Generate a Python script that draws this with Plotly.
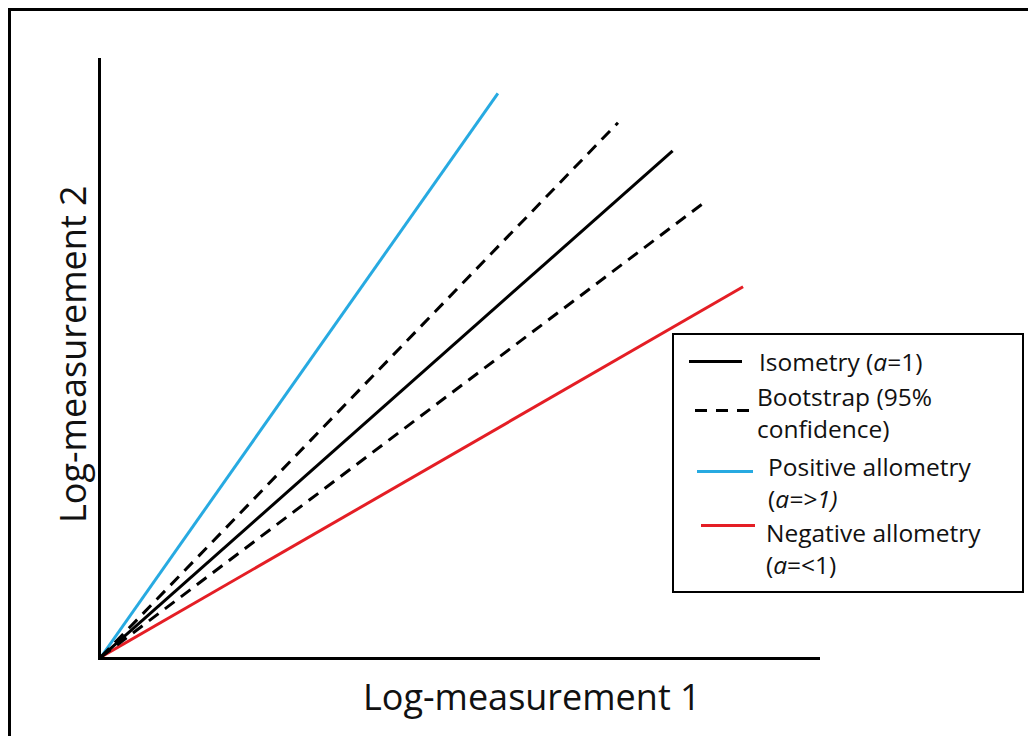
import plotly.graph_objects as go

# ---- data (axis units, lines start at origin) ----
series_names = ["Positive allometry", "Bootstrap upper", "Isometry", "Bootstrap lower", "Negative allometry"]
x_start = [0, 0, 0, 0, 0]
y_start = [0, 0, 0, 0, 0]
x_end = [5.52, 7.19, 7.95, 8.36, 8.93]
y_end = [9.41, 8.92, 8.45, 7.56, 6.18]

legend_labels = [
    "Isometry (<i>a</i>=1)",
    "Bootstrap (95%<br>confidence)",
    "Positive allometry<br>(<i>a=&gt;1)</i>",
    "Negative allometry<br>(<i>a</i>=&lt;1)",
]
x_title = "Log-measurement 1"
y_title = "Log-measurement 2"

BLUE = "#27AAE1"
RED = "#E41E25"
BLACK = "#000000"
styles = [
    dict(color=BLUE, width=3, dash="solid"),
    dict(color=BLACK, width=3, dash="12px,8px"),
    dict(color=BLACK, width=3, dash="solid"),
    dict(color=BLACK, width=3, dash="12px,8px"),
    dict(color=RED, width=3, dash="solid"),
]

OFF = 8  # page body margin
W, H = 1036 - OFF, 736 - OFF
RL, RR, RT, RB = 101, 820, 58, 657  # plot area in reference pixels
L, R, T, B = RL - OFF, RR - OFF, RT - OFF, RB - OFF


def px(xp):
    return (xp - RL) / (RR - RL)


def py(yp):
    return (RB - yp) / (RB - RT)


fig = go.Figure()
order = [4, 0, 3, 1, 2]
for i in order:
    fig.add_trace(go.Scatter(
        x=[x_start[i], x_end[i]], y=[y_start[i], y_end[i]],
        mode="lines", name=series_names[i], line=styles[i],
        showlegend=False, hoverinfo="skip",
    ))

FONT = "Open Sans, Calibri, Arial, sans-serif"

shapes = []
# outer frame (left and top edges)
shapes.append(dict(type="line", xref="paper", yref="paper", x0=px(9.5), x1=px(9.5), y0=py(8), y1=py(760),
                   line=dict(color="black", width=3)))
shapes.append(dict(type="line", xref="paper", yref="paper", x0=px(8), x1=px(1060), y0=py(9.5), y1=py(9.5),
                   line=dict(color="black", width=3)))
# legend box
shapes.append(dict(type="rect", xref="paper", yref="paper", x0=px(673), x1=px(1023), y0=py(334), y1=py(592),
                   line=dict(color="black", width=2), fillcolor="white", layer="above"))
# legend samples
samples = [
    (689, 742, 361.5, dict(color=BLACK, width=3, dash="solid")),
    (695, 751, 410.5, dict(color=BLACK, width=3, dash="12px,9px")),
    (697, 753, 471.5, dict(color=BLUE, width=3, dash="solid")),
    (701, 755, 525.5, dict(color=RED, width=3, dash="solid")),
]
for x0, x1, yy, ln in samples:
    shapes.append(dict(type="line", xref="paper", yref="paper", x0=px(x0), x1=px(x1), y0=py(yy), y1=py(yy),
                       line=ln, layer="above"))

annotations = []
text_pos = [(757, 361), (755, 412.5), (766, 482.5), (764, 548.5)]
for (xx, yy), lab in zip(text_pos, legend_labels):
    annotations.append(dict(xref="paper", yref="paper", x=px(xx), y=py(yy), xanchor="left", yanchor="middle",
                            text=lab, showarrow=False, align="left",
                            font=dict(family=FONT, size=24.5, color="#111")))
annotations.append(dict(xref="paper", yref="paper", x=px(532), y=py(696), xanchor="center", yanchor="middle",
                        text=x_title, showarrow=False, font=dict(family=FONT, size=36, color="#111")))
annotations.append(dict(xref="paper", yref="paper", x=px(72), y=py(354), xanchor="center", yanchor="middle",
                        text=y_title, showarrow=False, textangle=-90,
                        font=dict(family=FONT, size=36, color="#111")))

fig.update_layout(
    width=W, height=H,
    margin=dict(l=L, r=W - R, t=T, b=H - B, pad=0),
    paper_bgcolor="white", plot_bgcolor="white",
    shapes=shapes, annotations=annotations,
    showlegend=False,
    xaxis=dict(range=[0, 10], showgrid=False, zeroline=False, showticklabels=False, ticks="",
               showline=True, linecolor="black", linewidth=3, fixedrange=True),
    yaxis=dict(range=[0, 10], showgrid=False, zeroline=False, showticklabels=False, ticks="",
               showline=True, linecolor="black", linewidth=3, fixedrange=True),
)

fig.write_html("out.html", config=dict(displayModeBar=False))
